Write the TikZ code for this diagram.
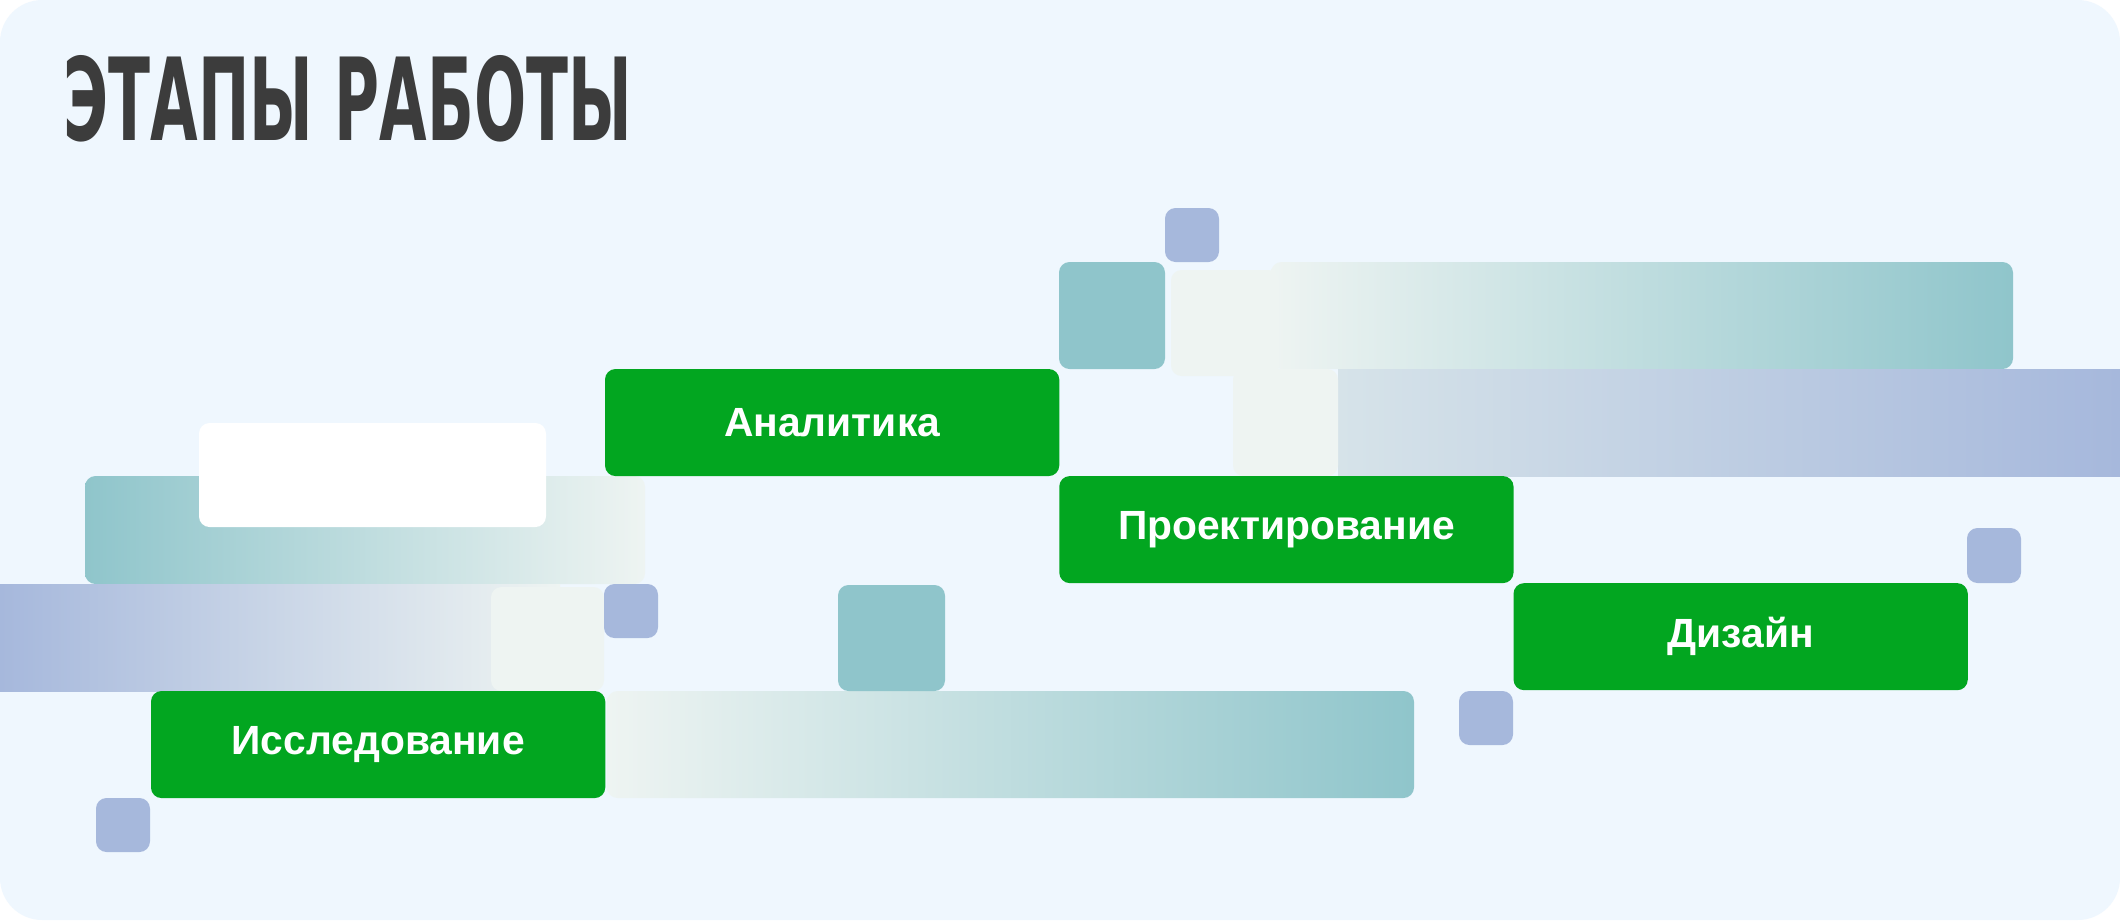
\documentclass[tikz,border=0pt]{standalone}
\usepackage{fontspec}
\usepackage{graphicx}
\setmainfont{Liberation Sans}
\newfontfamily\headfont{DejaVu Sans}
\usetikzlibrary{positioning}
\definecolor{pagebg}{HTML}{EFF7FE}
\definecolor{headgray}{HTML}{3C3C3C}
\definecolor{stagegreen}{HTML}{02A620}
\definecolor{tealtile}{HTML}{8FC5CB}
\definecolor{bluetile}{HTML}{A6B8DC}
\definecolor{softlight}{HTML}{EEF4F2}
\definecolor{mistblue}{HTML}{D6E3E9}

\tikzset{
  stage/.style={fill=stagegreen, rounded corners=3pt, minimum width=4.54cm,
                minimum height=1.07cm, inner sep=0pt, outer sep=0pt, text=white,
                font=\fontsize{11.6}{13}\selectfont\bfseries},
  tile/.style={rounded corners=3pt},
}

\begin{document}
\begin{tikzpicture}[x=0.01cm, y=-0.01cm]
\useasboundingbox (0,0) rectangle (2120,920);
\fill[white] (0,0) rectangle (2120,920);
\fill[pagebg, rounded corners=12pt] (0,0) rectangle (2120,920);

% heading
\node[anchor=south west, inner sep=0pt, text=headgray] (heading) at (63,143)
  {\resizebox{5.68cm}{0.85cm}{\headfont\bfseries ЭТАПЫ РАБОТЫ}};

% gradient bars
\shade[tile, left color=softlight, right color=tealtile] (1271,262) rectangle (2013,369);
\shade[left color=mistblue, right color=bluetile] (1338,369) rectangle (2120,476);
\shade[tile, left color=tealtile, right color=softlight] (85,476) rectangle (645,584);
\shade[left color=bluetile, right color=softlight] (0,584) rectangle (560,691);
\shade[tile, left color=softlight, right color=tealtile] (607,691) rectangle (1414,798);

% light tiles
\fill[tile, softlight] (1171,270) rectangle (1279,376);
\fill[tile, softlight] (1233,369) rectangle (1338,476);
\fill[tile, softlight] (491,587) rectangle (604,691);

% small tiles
\fill[tile, bluetile] (1165,208) rectangle (1219,262);
\fill[tile, tealtile] (1059,262) rectangle (1165,369);
\fill[tile, bluetile] (604,584) rectangle (658,638);
\fill[tile, tealtile] (838,585) rectangle (945,691);
\fill[tile, bluetile] (1967,528) rectangle (2021,583);
\fill[tile, bluetile] (1459,691) rectangle (1513,745);
\fill[tile, bluetile] (96,798) rectangle (150,852);

% white card
\fill[tile, white] (199,423) rectangle (546,527);

% stages
\node[stage, anchor=north west] (analytics) at (605,369) {Аналитика};
\node[stage, below right=0pt and 0pt of analytics] (design) {Проектирование};
\node[stage, below right=0pt and 0pt of design] (visual) {Дизайн};
\node[stage, anchor=north west] (research) at (151,691) {Исследование};
\end{tikzpicture}
\end{document}
